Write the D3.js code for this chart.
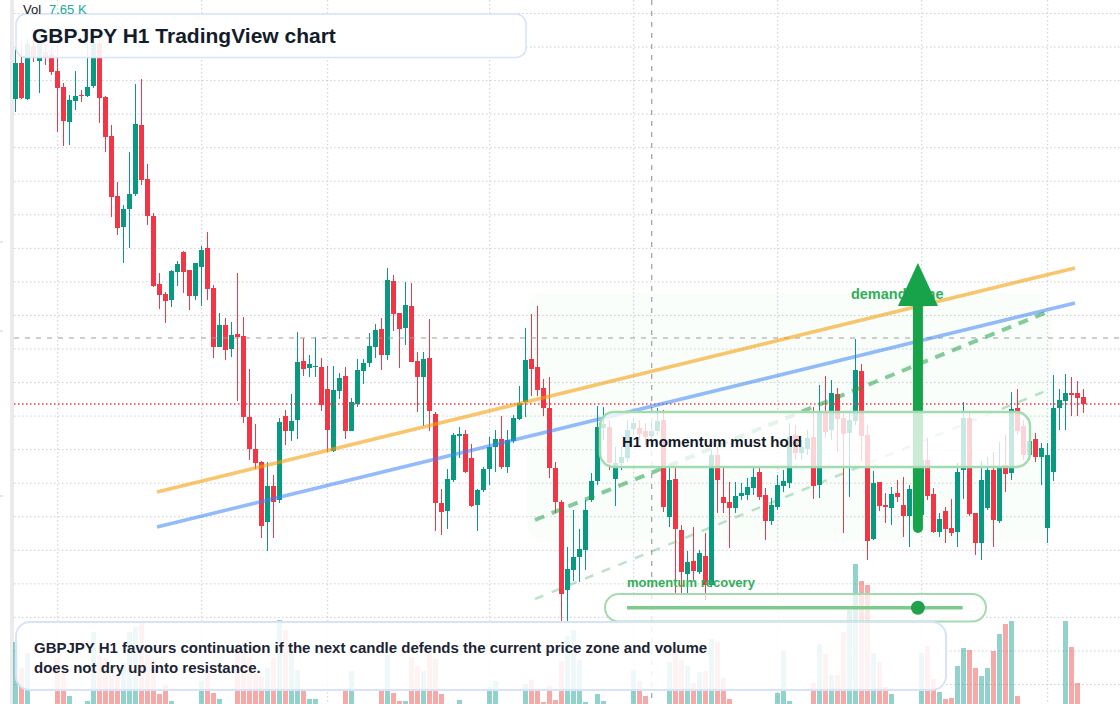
<!DOCTYPE html>
<html>
<head>
<meta charset="utf-8">
<script src="https://cdn.jsdelivr.net/npm/d3@7"></script>
<style>
  html, body { margin: 0; padding: 0; background: #fff; }
  svg { display: block; font-family: "Liberation Sans", Arial, Helvetica, sans-serif; }
</style>
</head>
<body>
<script>
// GBPJPY H1 candles, one entry per hour (index 0 = first visible candle)
const open = [
  202.05, 202.41, 202.05, 202.58, 202.43, 202.52, 202.50, 202.33, 202.17, 201.82,
  202.03, 202.09, 202.08, 202.18, 202.61, 202.07, 201.68, 201.08, 200.77, 200.95,
  201.10, 201.79, 201.25, 200.88, 200.20, 200.10, 200.04, 200.32, 200.52, 200.34,
  200.08, 200.37, 200.56, 200.16, 199.57, 199.79, 199.55, 199.70, 199.68, 198.87,
  198.55, 198.42, 197.82, 198.18, 198.04, 198.88, 198.73, 198.84, 199.43, 199.36,
  199.37, 199.37, 199.15, 198.53, 199.13, 199.28, 198.73, 199.00, 199.33, 199.41,
  199.57, 199.75, 199.49, 200.23, 199.91, 199.76, 199.98, 199.43, 199.27, 199.46,
  198.90, 198.01, 197.93, 198.24, 198.68, 198.70, 198.46, 197.99, 198.14, 198.35,
  198.57, 198.65, 198.37, 198.63, 198.85, 199.02, 199.45, 199.37, 199.16, 198.96,
  198.36, 198.02, 197.14, 197.34, 197.47, 197.54, 198.04, 198.23, 198.76, 198.77,
  198.25, 198.41, 198.46, 198.75, 198.76, 198.73, 198.68, 198.73, 198.84, 197.87,
  198.25, 197.74, 197.30, 197.43, 197.32, 197.48, 197.19, 198.49, 198.07, 198.02,
  197.96, 198.08, 198.09, 198.16, 198.32, 198.09, 197.83, 197.97, 198.18, 198.21,
  198.69, 198.51, 198.55, 198.67, 198.19, 198.91, 198.74, 199.10, 198.86, 198.71,
  198.83, 199.33, 198.69, 197.65, 198.22, 197.99, 197.96, 198.11, 197.99, 197.88,
  198.14, 197.89, 198.44, 198.10, 197.72, 197.93, 197.76, 197.72, 198.34, 198.86,
  197.91, 197.61, 197.96, 198.34, 197.83, 198.39, 198.31, 198.96, 198.78, 198.49,
  198.65, 198.47, 197.76, 198.32, 198.96, 199.03, 199.11, 199.11, 199.07
];
const high = [
  202.55, 202.63, 202.66, 202.72, 202.72, 202.59, 202.57, 202.59, 202.21, 202.09,
  202.33, 202.14, 202.61, 202.64, 202.64, 202.08, 201.79, 201.22, 200.99, 201.52,
  202.20, 202.25, 201.40, 200.91, 200.31, 200.12, 200.34, 200.43, 200.53, 200.34,
  200.41, 200.58, 200.72, 200.19, 199.91, 199.86, 199.82, 200.31, 199.87, 199.35,
  198.80, 198.43, 198.42, 198.29, 198.86, 198.94, 199.10, 199.72, 199.66, 199.49,
  199.67, 199.46, 199.38, 199.38, 199.31, 199.37, 199.06, 199.45, 199.45, 199.71,
  199.80, 199.86, 200.36, 200.29, 199.91, 200.22, 200.21, 199.52, 199.52, 199.85,
  198.92, 198.15, 198.35, 198.71, 198.77, 198.74, 198.60, 198.15, 198.37, 198.67,
  198.74, 198.88, 198.74, 198.89, 199.18, 199.76, 199.90, 199.98, 199.25, 199.27,
  198.42, 198.04, 197.57, 197.94, 197.75, 198.04, 198.31, 198.98, 198.97, 198.84,
  198.57, 198.57, 198.84, 198.86, 198.84, 198.81, 198.84, 198.96, 198.94, 198.36,
  198.36, 197.79, 197.53, 197.77, 197.54, 197.71, 198.54, 198.57, 198.36, 198.22,
  198.22, 198.21, 198.26, 198.36, 198.36, 198.16, 198.06, 198.29, 198.34, 198.81,
  198.79, 198.64, 198.74, 198.97, 199.19, 199.28, 199.24, 199.16, 198.92, 198.92,
  199.65, 199.40, 198.79, 198.33, 198.22, 198.11, 198.17, 198.24, 198.27, 198.19,
  198.22, 198.64, 198.66, 198.16, 197.91, 197.97, 198.05, 198.41, 199.02, 198.91,
  197.91, 198.43, 198.47, 198.52, 198.62, 198.69, 199.12, 199.15, 198.84, 198.72,
  198.71, 198.61, 198.61, 199.29, 199.15, 199.30, 199.27, 199.23, 199.15
];
const low = [
  201.92, 202.05, 202.04, 202.42, 202.11, 202.39, 202.29, 201.72, 201.58, 201.59,
  201.94, 202.02, 202.07, 202.16, 201.81, 201.52, 200.87, 200.69, 200.41, 200.56,
  201.08, 201.19, 200.79, 200.17, 199.95, 199.81, 199.97, 200.18, 200.11, 199.94,
  200.04, 199.98, 200.04, 199.46, 199.57, 199.44, 199.47, 199.03, 198.81, 198.44,
  198.35, 197.66, 197.53, 197.66, 198.01, 198.59, 198.63, 198.65, 199.28, 199.27,
  199.27, 198.93, 198.52, 198.52, 199.05, 198.65, 198.73, 198.97, 199.20, 199.37,
  199.46, 199.34, 199.44, 199.73, 199.36, 199.59, 199.42, 198.92, 198.78, 198.73,
  197.73, 197.69, 197.75, 198.22, 198.46, 198.31, 197.97, 197.73, 198.12, 198.19,
  198.32, 198.35, 198.31, 198.61, 198.84, 198.87, 199.08, 199.08, 198.88, 198.26,
  197.91, 196.83, 196.83, 197.23, 197.22, 197.34, 198.02, 198.19, 198.64, 198.34,
  197.98, 198.34, 198.42, 198.69, 198.64, 198.59, 198.64, 198.69, 197.92, 197.77,
  197.10, 197.10, 197.10, 197.24, 197.30, 197.04, 197.17, 197.91, 197.91, 197.56,
  197.91, 198.04, 198.04, 198.09, 198.04, 197.64, 197.79, 197.94, 198.12, 198.16,
  198.44, 198.44, 198.49, 198.05, 198.06, 198.66, 198.64, 198.52, 197.71, 198.07,
  198.79, 198.43, 197.44, 197.64, 197.93, 197.81, 197.79, 198.02, 197.67, 197.57,
  197.82, 197.84, 198.04, 197.71, 197.67, 197.61, 197.68, 197.57, 198.05, 197.88,
  197.49, 197.44, 197.94, 197.57, 197.81, 198.12, 198.24, 198.69, 198.44, 198.44,
  198.42, 198.19, 197.61, 198.23, 198.74, 198.74, 198.88, 198.88, 198.91
];
const close = [
  202.41, 202.06, 202.60, 202.46, 202.61, 202.46, 202.32, 202.16, 201.83, 202.04,
  202.08, 202.08, 202.17, 202.61, 202.06, 201.67, 201.07, 200.76, 200.95, 201.10,
  201.80, 201.24, 200.88, 200.18, 200.09, 200.03, 200.33, 200.40, 200.32, 200.08,
  200.41, 200.54, 200.15, 199.57, 199.79, 199.54, 199.69, 199.67, 198.87, 198.55,
  198.41, 197.78, 198.18, 198.02, 198.82, 198.73, 198.83, 199.42, 199.35, 199.40,
  199.38, 198.99, 198.74, 199.14, 199.26, 198.73, 199.02, 199.34, 199.41, 199.58,
  199.74, 199.49, 200.24, 199.90, 199.75, 199.99, 199.42, 199.27, 199.45, 198.93,
  198.01, 197.92, 198.25, 198.69, 198.70, 198.32, 197.98, 198.14, 198.35, 198.57,
  198.65, 198.37, 198.64, 198.86, 199.01, 199.44, 199.35, 199.14, 198.96, 198.36,
  198.02, 197.10, 197.35, 197.47, 197.55, 197.94, 198.23, 198.77, 198.80, 198.41,
  198.41, 198.47, 198.74, 198.81, 198.70, 198.67, 198.73, 198.83, 197.97, 198.24,
  197.75, 197.32, 197.42, 197.33, 197.51, 197.19, 198.49, 198.24, 198.01, 197.96,
  198.08, 198.11, 198.17, 198.27, 198.07, 197.83, 197.99, 198.19, 198.23, 198.67,
  198.51, 198.57, 198.66, 198.18, 198.93, 198.72, 199.11, 198.85, 198.70, 198.84,
  199.34, 198.68, 197.63, 198.21, 197.98, 197.97, 198.10, 198.07, 197.88, 198.15,
  197.89, 198.44, 198.08, 197.72, 197.85, 197.75, 197.71, 198.32, 198.86, 197.90,
  197.61, 198.24, 198.34, 197.84, 198.37, 198.30, 198.95, 198.73, 198.49, 198.63,
  198.47, 198.56, 198.49, 198.96, 199.04, 199.11, 199.09, 199.06, 199.00
];
// volume in thousands
const volume = [
  11.7, 7.3, 9.8, 0.8, 0.9, 0.6, 1.0, 9.0, 6.5, 2.6,
  1.1, 0.7, 1.9, 13.4, 9.3, 9.0, 6.2, 6.2, 8.2, 13.4,
  14.2, 14.9, 9.5, 8.7, 3.0, 4.5, 1.9, 1.0, 0.8, 1.1,
  0.9, 5.1, 6.5, 3.1, 2.2, 1.0, 0.7, 9.8, 9.8, 9.0,
  6.5, 5.9, 7.3, 9.0, 15.3, 13.7, 9.8, 7.0, 3.7, 2.1,
  2.1, 0.9, 1.1, 0.8, 0.7, 3.7, 6.8, 0.9, 0.6, 1.0,
  0.8, 3.7, 9.5, 3.1, 1.8, 1.8, 9.1, 7.6, 6.8, 9.8,
  8.8, 3.0, 1.0, 0.8, 2.0, 0.9, 0.7, 1.1, 0.8, 4.2,
  5.1, 0.9, 0.7, 1.0, 0.8, 4.6, 5.3, 3.8, 1.7, 4.3,
  2.0, 8.5, 12.7, 13.7, 8.7, 1.6, 0.9, 3.0, 1.8, 0.8,
  1.0, 0.7, 0.9, 7.0, 5.2, 2.7, 0.8, 1.0, 0.9, 8.3,
  10.9, 8.7, 7.7, 4.8, 6.6, 6.8, 12.2, 11.6, 5.7, 2.1,
  1.0, 0.8, 0.9, 1.1, 0.7, 1.0, 0.9, 3.2, 10.2, 1.8,
  0.8, 1.0, 0.9, 4.9, 11.3, 9.7, 6.2, 6.2, 13.3, 17.0,
  24.7, 21.8, 21.2, 9.9, 8.3, 4.1, 3.0, 0.8, 1.0, 0.9,
  0.7, 9.8, 11.0, 5.5, 3.3, 2.2, 2.4, 7.7, 10.7, 10.3,
  7.3, 6.0, 7.3, 10.2, 13.0, 14.7, 15.2, 2.7, 0.9, 0.8,
  1.0, 0.7, 0.9, 1.1, 0.8, 15.2, 10.9, 4.9, 1.3
];

// session separators (candle index) and reference prices
const sessionStarts = [7, 31, 52, 79, 103, 127, 151, 172];
const lastPrice = 199.00;
const crosshair = { index: 106, price: 199.66 };

// drawn trendlines as [candle index, price]
const resistanceLine = [[23.55, 198.12], [176.55, 200.36]];
const supportLine = [[23.55, 197.77], [176.55, 200.01]];
const demandTrend = [[86.55, 197.84], [171.9, 199.92]];
const recoveryTrend = [[86.55, 197.05], [172.05, 199.14]];
const demandZone = { from: 85.2, to: 172.7, top: 200.11, bottom: 197.63 };
const targetArrow = { index: 150.37, from: 197.76, to: 200.41 };

const W = 1120, H = 704;
const up = "#089981", down = "#f23645";

const svg = d3.select("body").append("svg")
    .attr("width", W)
    .attr("height", H);

const x = d3.scaleLinear().domain([0, open.length - 1]).range([15.7, 1083.7]);
const y = d3.scaleLinear().domain([196.00, 203.04]).range([H, 0]);
const yVol = d3.scaleLinear().domain([0, 25]).range([712, 562]);

svg.append("rect").attr("width", W).attr("height", H).attr("fill", "#fff");

// left edge strip + tiny scale marks
svg.append("rect").attr("x", 10).attr("y", 0).attr("width", 4).attr("height", H).attr("fill", "#ebebeb");
[242, 331, 496].forEach(t => {
    svg.append("line").attr("x1", 0).attr("x2", 3).attr("y1", t).attr("y2", t)
        .attr("stroke", "#cfcfcf").attr("stroke-width", 1);
});

// grid
const grid = svg.append("g")
    .attr("stroke", "#cdcdcd")
    .attr("stroke-width", 1)
    .attr("stroke-dasharray", "1.5,2.5");
const gridPrices = d3.range(0, 21).map(k => 202.905 - k * 0.3355);
gridPrices.forEach(p => {
    grid.append("line").attr("x1", 14).attr("x2", W).attr("y1", y(p)).attr("y2", y(p));
});
sessionStarts.forEach(i => {
    grid.append("line").attr("x1", x(i)).attr("x2", x(i)).attr("y1", 0).attr("y2", H);
});

// demand zone shading (very faint)
svg.append("rect")
    .attr("x", x(demandZone.from))
    .attr("y", y(demandZone.top))
    .attr("width", x(demandZone.to) - x(demandZone.from))
    .attr("height", y(demandZone.bottom) - y(demandZone.top))
    .attr("rx", 18)
    .attr("fill", "#22c55e")
    .attr("fill-opacity", 0.025);

// volume
svg.append("g").attr("shape-rendering", "crispEdges").selectAll("rect")
    .data(volume)
    .join("rect")
    .attr("x", (d, i) => Math.round(x(i) - 2.5))
    .attr("y", d => yVol(d))
    .attr("width", 5)
    .attr("height", d => yVol(0) - yVol(d))
    .attr("fill", (d, i) => close[i] >= open[i] ? "rgba(38,166,154,0.5)" : "rgba(239,83,80,0.5)");

// candles
const candles = svg.append("g").attr("shape-rendering", "crispEdges");
open.forEach((o, i) => {
    const c = close[i];
    const col = c >= o ? up : down;
    const cx = x(i);
    candles.append("rect")
        .attr("x", Math.round(cx - 0.5))
        .attr("y", y(high[i]))
        .attr("width", 1)
        .attr("height", Math.max(1, y(low[i]) - y(high[i])))
        .attr("fill", col);
    candles.append("rect")
        .attr("x", Math.round(cx - 2.5))
        .attr("y", y(Math.max(o, c)))
        .attr("width", 5)
        .attr("height", Math.max(1, Math.abs(y(o) - y(c))))
        .attr("fill", col);
});

// last price line
svg.append("line")
    .attr("x1", 14).attr("x2", W)
    .attr("y1", y(lastPrice)).attr("y2", y(lastPrice))
    .attr("stroke", down).attr("stroke-width", 1.5)
    .attr("stroke-dasharray", "1.5,2.5");

// crosshair
svg.append("line")
    .attr("x1", 14).attr("x2", W)
    .attr("y1", y(crosshair.price)).attr("y2", y(crosshair.price))
    .attr("stroke", "#9e9e9e").attr("stroke-width", 1.2)
    .attr("stroke-dasharray", "5,6");
svg.append("line")
    .attr("x1", x(crosshair.index)).attr("x2", x(crosshair.index))
    .attr("y1", 0).attr("y2", H)
    .attr("stroke", "#9e9e9e").attr("stroke-width", 1.2)
    .attr("stroke-dasharray", "5,6");

// trendlines
const seg = d3.line().x(d => x(d[0])).y(d => y(d[1]));
svg.append("path").attr("d", seg(resistanceLine))
    .attr("fill", "none").attr("stroke", "#f59e0b").attr("stroke-opacity", 0.6).attr("stroke-width", 3.5);
svg.append("path").attr("d", seg(supportLine))
    .attr("fill", "none").attr("stroke", "#3b82f6").attr("stroke-opacity", 0.55).attr("stroke-width", 3.5);
svg.append("path").attr("d", seg(demandTrend))
    .attr("fill", "none").attr("stroke", "#22a04b").attr("stroke-opacity", 0.55)
    .attr("stroke-width", 4).attr("stroke-dasharray", "10,8");
svg.append("path").attr("d", seg(recoveryTrend))
    .attr("fill", "none").attr("stroke", "#22a04b").attr("stroke-opacity", 0.3)
    .attr("stroke-width", 2.5).attr("stroke-dasharray", "9,9");

// demand zone label
svg.append("text")
    .attr("x", x(demandZone.from) + 324)
    .attr("y", y(demandZone.top) + 5.5)
    .attr("font-size", "14.5px")
    .attr("font-weight", "bold")
    .attr("fill", "#31ae58")
    .text("demand zone");

// big arrow
const ax = x(targetArrow.index);
svg.append("line")
    .attr("x1", ax).attr("x2", ax)
    .attr("y1", y(targetArrow.from)).attr("y2", y(targetArrow.to) + 40)
    .attr("stroke", "#16a34a").attr("stroke-width", 10).attr("stroke-linecap", "round");
svg.append("path")
    .attr("d", `M${ax},${y(targetArrow.to)} L${ax + 20},${y(targetArrow.to) + 43} L${ax - 20},${y(targetArrow.to) + 43} Z`)
    .attr("fill", "#16a34a");

// "H1 momentum must hold" callout
svg.append("rect")
    .attr("x", 600).attr("y", 412).attr("width", 430).attr("height", 55).attr("rx", 14)
    .attr("fill", "#fff").attr("fill-opacity", 0.78)
    .attr("stroke", "#a3dbb1").attr("stroke-width", 2.5);
svg.append("text")
    .attr("x", 622).attr("y", 447)
    .attr("font-size", "15px").attr("font-weight", "bold").attr("fill", "#111827")
    .text("H1 momentum must hold");

// momentum recovery gauge
svg.append("text")
    .attr("x", 627).attr("y", 587.3)
    .attr("font-size", "13px").attr("font-weight", "bold").attr("fill", "#31ae58")
    .text("momentum recovery");
svg.append("rect")
    .attr("x", 605).attr("y", 594).attr("width", 381).attr("height", 27.5).attr("rx", 13.75)
    .attr("fill", "#fff").attr("fill-opacity", 0.72)
    .attr("stroke", "#a3dbb1").attr("stroke-width", 2);
svg.append("line")
    .attr("x1", 627).attr("x2", 962.7).attr("y1", 607.7).attr("y2", 607.7)
    .attr("stroke", "#7ccb8c").attr("stroke-width", 3.5);
svg.append("circle")
    .attr("cx", ax).attr("cy", 607.7).attr("r", 7)
    .attr("fill", "#22a04b");

// title box
svg.append("rect")
    .attr("x", 16).attr("y", 14).attr("width", 510).attr("height", 43.5).attr("rx", 10)
    .attr("fill", "#fff").attr("fill-opacity", 0.9)
    .attr("stroke", "#d6e3f9").attr("stroke-width", 1.5);
svg.append("text")
    .attr("x", 32).attr("y", 43.3)
    .attr("font-size", "21px").attr("font-weight", "bold").attr("fill", "#131c2b")
    .text("GBPJPY H1 TradingView chart");

// volume legend
const vol = svg.append("text").attr("x", 23).attr("y", 13.5).attr("font-size", "13px");
vol.append("tspan").attr("fill", "#131722").text("Vol");
vol.append("tspan").attr("x", 49).attr("fill", "#22ab94").text("7.65 K");

// bottom note
svg.append("rect")
    .attr("x", 16).attr("y", 622).attr("width", 930).attr("height", 68).attr("rx", 14)
    .attr("fill", "#fff").attr("fill-opacity", 0.85)
    .attr("stroke", "#d6e3f9").attr("stroke-width", 2);
const note = svg.append("text")
    .attr("font-size", "15px").attr("font-weight", "bold").attr("fill", "#1b2433");
note.append("tspan").attr("x", 34).attr("y", 653.3)
    .text("GBPJPY H1 favours continuation if the next candle defends the current price zone and volume");
note.append("tspan").attr("x", 34).attr("y", 672.7)
    .text("does not dry up into resistance.");
</script>
</body>
</html>
